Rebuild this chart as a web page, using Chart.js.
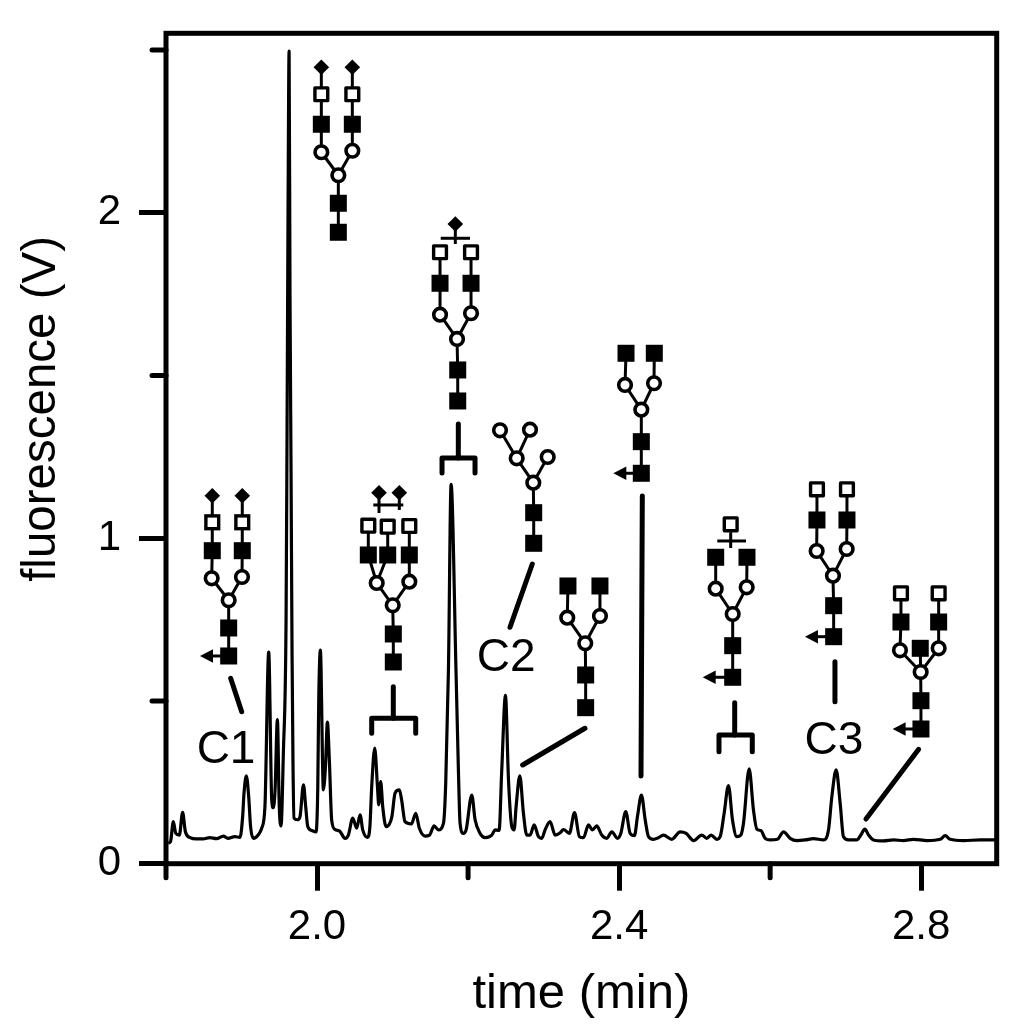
<!DOCTYPE html>
<html>
<head>
<meta charset="utf-8">
<style>html,body{margin:0;padding:0;background:#fff}canvas{display:block}</style>
<script src="https://cdn.jsdelivr.net/npm/chart.js@4/dist/chart.umd.min.js"></script>
</head>
<body>
<canvas id="c" width="1029" height="1032"></canvas>
<script>
const xMajorTicks = [2.0, 2.4, 2.8];
const xMinorTicks = [1.8, 2.2, 2.6];
const yMajorTicks = [0, 1, 2];
const yMinorTicks = [0.5, 1.5, 2.5];
const xTitle = 'time (min)';
const yTitle = 'fluorescence (V)';

const times = [
1.803,1.806,1.8097,1.813,1.8177,1.822,1.8256,1.832,1.8406,1.849,1.858,1.867,1.876,1.882,1.891,1.898,
1.9015,1.9033,1.9064,1.9095,1.912,1.9157,1.922,1.9267,1.931,1.936,1.94,1.942,1.9444,1.9475,1.95,1.9523,
1.9554,1.959,1.9603,1.9616,1.963,1.9642,1.9656,1.9669,1.9682,1.9695,1.974,1.9775,1.982,1.985,1.9877,1.993,
1.9987,2.001,2.0022,2.0044,2.0084,2.0112,2.0137,2.0163,2.0194,2.0238,2.03,2.0371,2.0415,2.0473,2.0525,2.057,
2.0605,2.0667,2.07,2.0724,2.0764,2.08,2.0817,2.0843,2.087,2.0914,2.099,2.1033,2.109,2.112,2.1165,2.125,
2.1307,2.1355,2.143,2.149,2.155,2.1607,2.1674,2.1704,2.174,2.1775,2.184,2.1872,2.1894,2.1938,2.1974,2.2049,
2.2093,2.2159,2.2226,2.2314,2.2358,2.2411,2.2446,2.2495,2.2535,2.2579,2.261,2.2636,2.2685,2.2733,2.2777,2.2821,
2.2875,2.2932,2.2976,2.302,2.3086,2.3153,2.322,2.3263,2.3342,2.3409,2.3475,2.3528,2.3594,2.3647,2.3704,2.377,
2.3837,2.3903,2.3978,2.4022,2.4088,2.4146,2.4203,2.4243,2.4296,2.4345,2.4389,2.4455,2.4521,2.4588,2.4698,2.4808,
2.4888,2.4985,2.5095,2.5161,2.5219,2.5294,2.5338,2.5391,2.5448,2.5501,2.5559,2.5612,2.5647,2.5722,2.5779,2.5824,
2.5877,2.5934,2.6,2.6097,2.6177,2.6265,2.6353,2.6464,2.6574,2.6706,2.6773,2.6817,2.6874,2.6927,2.6971,2.7038,
2.7148,2.7201,2.7254,2.7303,2.7369,2.7501,2.7634,2.7766,2.7899,2.8075,2.8252,2.8318,2.8384,2.8561,2.8782,2.898
];
const fluorescence = [
.063,.068,.129,.093,.088,.158,.099,.08,.076,.076,.08,.077,.085,.078,.083,.081,
.145,.217,.27,.206,.114,.078,.088,.109,.175,.65,.196,.172,.225,.443,.175,.116,
.34,.751,1.33,2.0,2.496,1.75,1.2,.65,.3,.14,.135,.145,.242,.175,.114,.102,
.098,.237,.494,.656,.227,.3,.435,.319,.134,.105,.1,.078,.088,.14,.109,.15,
.104,.081,.114,.237,.355,.237,.181,.252,.175,.114,.143,.217,.227,.196,.129,.122,
.155,.109,.085,.088,.116,.104,.124,.247,.595,1.165,.595,.288,.124,.093,.104,.211,
.135,.093,.08,.088,.104,.102,.288,.517,.258,.114,.104,.175,.27,.155,.088,.088,
.119,.083,.078,.104,.129,.088,.095,.105,.093,.157,.083,.08,.119,.104,.116,.088,
.078,.098,.078,.093,.16,.093,.086,.145,.211,.135,.083,.075,.08,.088,.075,.098,
.093,.071,.088,.078,.088,.075,.083,.155,.24,.135,.083,.088,.124,.291,.165,.106,
.102,.078,.073,.075,.098,.078,.071,.073,.077,.073,.104,.206,.288,.186,.083,.073,
.073,.088,.106,.088,.073,.07,.073,.071,.075,.071,.075,.086,.075,.071,.073,.073
];

// Annotation glyphs: each is anchored to a (time, V) position through the scales;
// node entries are [shape, dx, dy, parentIndex] in px from the anchor.
const glycans = [
 {t:1.8830,v:.6381,fuc:-28.7,
  nodes:[['b',0,0,-1],['b',0,-28,0],['o',0,-55.7,1],['o',-17,-77.7,2],['o',13.3,-79,2],['b',-16.4,-105.3,3],['b',13.6,-105.3,4],['w',-16.4,-133.7,5],['w',13.6,-133.7,6],['d',-16.4,-160.3,7],['d',13.6,-160.3,8]],
  lines:[[[2,22.3],[13,55.7]]]},
 {t:2.0282,v:1.9398,
  nodes:[['b',0,0,-1],['b',0,-29,0],['o',0,-57,1],['o',-17,-80,2],['o',14,-81.5,2],['b',-17,-108,3],['b',14,-108,4],['w',-17,-138,5],['w',14,-138,6],['d',-17,-165,7],['d',14,-165,8]],
  lines:[]},
 {t:2.1010,v:.6197,
  nodes:[['b',0,0,-1],['b',0,-28,0],['o',-.6,-56.7,1],['o',-16.6,-79,2],['o',16,-80.3,2],['b',-25,-107,3],['b',-5.6,-107,3],['b',16,-107,4],['w',-25,-136.3,5],['w',-5.6,-135.3,6],['w',16,-136,7],['d',-14.3,-169.3,-1],['d',6,-169.3,-1]],
  thin:[[[-20,-157],[10,-157]],[[-14.3,-164],[-14.3,-149]],[[6,-164],[6,-152]]],
  lines:[[[0,24.7],[0,56.3]],[[-21.6,71.3],[-21.6,56.3],[22.4,56.3],[22.4,71.3]]]},
 {t:2.1863,v:1.4215,
  nodes:[['b',0,0,-1],['b',0,-31,0],['o',-.7,-62,1],['o',-17.7,-86.3,2],['o',13.3,-87.7,2],['b',-17.7,-117.7,3],['b',13.3,-117.7,4],['w',-17.7,-148.7,5],['w',13.3,-148.7,6],['d',-2.4,-177,-1]],
  thin:[[[-17,-162.7],[12.3,-162.7]],[[-2.4,-173],[-2.4,-157]]],
  lines:[[[.6,23],[.6,57]],[[-15.7,72],[-15.7,57],[17.3,57],[17.3,72]]]},
 {t:2.2869,v:.9843,
  nodes:[['b',0,0,-1],['b',0,-30.6,0],['o',-.4,-60.6,1],['o',-17,-85,2],['o',14,-86.3,2],['o',-33.7,-113,3],['o',-3.7,-113.6,3]],
  lines:[[[-1.4,20.7],[-23.7,84]]]},
 {t:2.3557,v:.4793,
  nodes:[['b',0,0,-1],['b',0,-32.7,0],['o',-.4,-64.4,1],['o',-18.4,-90,2],['o',14.3,-91.7,2],['b',-17.7,-121.7,3],['b',14.3,-121.7,4]],
  lines:[[[-.7,20.6],[-63,57.3]]]},
 {t:2.4294,v:1.1994,fuc:-28,
  nodes:[['b',0,0,-1],['b',0,-31.6,0],['o',0,-63.6,1],['o',-16.3,-88.3,2],['o',12.7,-90,2],['b',-15.3,-120,3],['b',13,-120,4]],
  lines:[[[1,22.7],[-.3,302.7]]]},
 {t:2.5504,v:.5727,fuc:-30,
  nodes:[['b',0,0,-1],['b',0,-31.6,0],['o',0,-63.3,1],['o',-17,-88.6,2],['o',14,-90,2],['b',-17,-120,3],['b',14.3,-120,4],['w',-2,-153,-1]],
  thin:[[[-15.4,-136.3],[13.3,-136.3]],[[-2,-145],[-2,-129.3]]],
  lines:[[[2,25.4],[2,57.7]],[[-13.7,74.4],[-13.7,57.7],[19.6,57.7],[19.6,74.4]]]},
 {t:2.6841,v:.6974,fuc:-28.7,
  nodes:[['b',0,0,-1],['b',0,-31,0],['o',-.7,-61,1],['o',-17,-85.7,2],['o',13,-87.7,2],['b',-16.7,-116.7,3],['b',13.3,-116.7,4],['w',-16.7,-147.4,5],['w',13.3,-147.4,6]],
  lines:[[[1.3,25],[1.3,65]]]},
 {t:2.7997,v:.4138,fuc:-28.3,
  nodes:[['b',0,0,-1],['b',0,-28.3,0],['o',-.3,-57,1],['b',-.7,-80.7,2],['o',-21,-78.7,2],['o',17.7,-80.7,2],['b',-20,-107,4],['b',17.7,-107,5],['w',-20,-135.7,6],['w',17.7,-135.7,7]],
  lines:[[[-2.3,20.3],[-55,90]]]}
];
const groupLabels = [
 {text:'C1',t:1.8795,v:.3102},
 {text:'C2',t:2.2503,v:.5905},
 {text:'C3',t:2.6845,v:.3370}
];

const annotationPlugin = {
  id:'annotationLayer',
  afterDatasetsDraw(chart){
    const ctx = chart.ctx, a = chart.chartArea, X = chart.scales.x, Y = chart.scales.y;
    ctx.save();
    ctx.strokeStyle='#000'; ctx.lineWidth=5; ctx.lineJoin='miter';
    ctx.strokeRect(a.left,a.top,a.right-a.left,a.bottom-a.top);
    ctx.lineCap='round';
    xMinorTicks.forEach(v=>{const p=X.getPixelForValue(v);ctx.beginPath();ctx.moveTo(p,a.bottom);ctx.lineTo(p,a.bottom+14);ctx.stroke();});
    yMinorTicks.forEach(v=>{const p=Y.getPixelForValue(v);ctx.beginPath();ctx.moveTo(a.left,p);ctx.lineTo(a.left-14,p);ctx.stroke();});
    glycans.forEach(g=>{
      const ox=X.getPixelForValue(g.t), oy=Y.getPixelForValue(g.v);
      ctx.strokeStyle='#000'; ctx.fillStyle='#000'; ctx.lineCap='butt';
      ctx.lineWidth=3;
      g.nodes.forEach(n=>{ if(n[3]<0) return; const p=g.nodes[n[3]];
        ctx.beginPath();ctx.moveTo(ox+n[1],oy+n[2]);ctx.lineTo(ox+p[1],oy+p[2]);ctx.stroke();});
      (g.thin||[]).forEach(l=>{ctx.lineWidth=3;ctx.beginPath();l.forEach((q,i)=>i?ctx.lineTo(ox+q[0],oy+q[1]):ctx.moveTo(ox+q[0],oy+q[1]));ctx.stroke();});
      if(g.fuc){
        ctx.beginPath();ctx.moveTo(ox,oy);ctx.lineTo(ox+g.fuc+8,oy);ctx.stroke();
        ctx.beginPath();ctx.moveTo(ox+g.fuc,oy);ctx.lineTo(ox+g.fuc+13,oy-6.8);ctx.lineTo(ox+g.fuc+13,oy+6.8);ctx.closePath();ctx.fill();
      }
      g.nodes.forEach(n=>{
        const x=ox+n[1], y=oy+n[2];
        if(n[0]==='b'){ctx.fillStyle='#000';ctx.fillRect(x-8.5,y-8.5,17,17);}
        else if(n[0]==='w'){ctx.fillStyle='#fff';ctx.lineWidth=3.4;ctx.fillRect(x-6.4,y-6.4,12.8,12.8);ctx.strokeRect(x-6.4,y-6.4,12.8,12.8);}
        else if(n[0]==='o'){ctx.fillStyle='#fff';ctx.lineWidth=3.6;ctx.beginPath();ctx.arc(x,y,6.3,0,Math.PI*2);ctx.fill();ctx.stroke();}
        else {ctx.fillStyle='#000';ctx.beginPath();ctx.moveTo(x,y-7.8);ctx.lineTo(x+7.8,y);ctx.lineTo(x,y+7.8);ctx.lineTo(x-7.8,y);ctx.closePath();ctx.fill();}
      });
      ctx.lineWidth=5; ctx.lineCap='round'; ctx.lineJoin='round'; ctx.fillStyle='#000';
      g.lines.forEach(l=>{ctx.beginPath();l.forEach((q,i)=>i?ctx.lineTo(ox+q[0],oy+q[1]):ctx.moveTo(ox+q[0],oy+q[1]));ctx.stroke();});
    });
    ctx.fillStyle='#000';ctx.textAlign='center';ctx.textBaseline='alphabetic';
    ctx.font='46px "Liberation Sans"';
    groupLabels.forEach(l=>ctx.fillText(l.text,X.getPixelForValue(l.t),Y.getPixelForValue(l.v)));
    ctx.restore();
  }
};

new Chart(document.getElementById('c'),{
  type:'line',
  data:{datasets:[{
    label:'fluorescence',
    data:times.map((t,i)=>({x:t,y:fluorescence[i]})),
    borderColor:'#000',borderWidth:3.2,pointRadius:0,cubicInterpolationMode:'monotone',borderJoinStyle:'round',fill:false
  }]},
  options:{
    responsive:false,animation:false,devicePixelRatio:1,
    layout:{padding:{top:33.3,right:32.3,left:0,bottom:0}},
    plugins:{legend:{display:false},tooltip:{enabled:false},title:{display:false}},
    scales:{
      x:{type:'linear',min:1.8,max:2.9,
        afterFit(s){s.height=168.3;s.paddingLeft=0;s.paddingRight=0;},
        afterBuildTicks(s){s.ticks=xMajorTicks.map(v=>({value:v}));},
        grid:{drawOnChartArea:false,drawTicks:true,tickLength:27,tickWidth:5,tickColor:'#000'},
        border:{display:false},
        ticks:{autoSkip:false,maxRotation:0,color:'#000',padding:12,font:{family:'"Liberation Sans"',size:42},callback:v=>Number(v).toFixed(1)},
        title:{display:true,text:xTitle,color:'#000',font:{family:'"Liberation Sans"',size:49},padding:{top:0,bottom:8}}
      },
      y:{type:'linear',min:0,max:2.551,
        afterFit(s){s.width=166;s.paddingTop=0;s.paddingBottom=0;},
        afterBuildTicks(s){s.ticks=yMajorTicks.map(v=>({value:v}));},
        grid:{drawOnChartArea:false,drawTicks:true,tickLength:27,tickWidth:5,tickColor:'#000'},
        border:{display:false},
        ticks:{autoSkip:false,color:'#000',padding:18,font:{family:'"Liberation Sans"',size:42},callback:v=>String(v)},
        title:{display:true,text:'\u00A0'.repeat(6)+yTitle,color:'#000',font:{family:'"Liberation Sans"',size:47.5},padding:{top:13,bottom:0}}
      }
    }
  },
  plugins:[annotationPlugin]
});
</script>
</body>
</html>
